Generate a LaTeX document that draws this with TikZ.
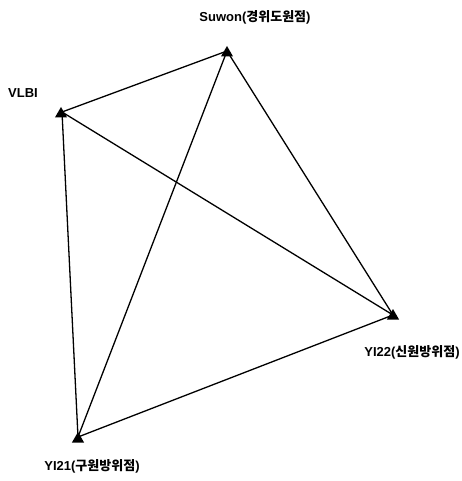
\documentclass[tikz,border=0pt]{standalone}
\usepackage{fontspec}
\usetikzlibrary{shapes.geometric}
\setmainfont{Liberation Sans}
\newfontfamily\kr{Noto Sans CJK KR}
\begin{document}
\begin{tikzpicture}[x=1pt,y=-1pt,
  stn/.style={regular polygon,regular polygon sides=3,fill=black,inner sep=0pt,minimum size=14pt},
  lbl/.style={font=\bfseries\fontsize{13}{15}\selectfont},
  ln/.style={line width=1.3pt}]
\useasboundingbox (0,0) rectangle (461,481);
\node[stn] (S) at (227,53) {};
\node[stn] (V) at (61,114) {};
\node[stn] (Y2) at (393,316) {};
\node[stn] (Y1) at (78,439) {};
\coordinate (s) at (227,51);
\coordinate (v) at (62,112);
\coordinate (y2) at (393,315);
\coordinate (y1) at (78,437);
\draw[ln] (v) -- (s) -- (y2) -- (y1) -- (v) -- (y2);
\draw[ln] (s) -- (y1);
\node[lbl] (Ls) at (255,17) {Suwon({\kr\bfseries 경위도원점})};
\node[lbl] (Lv) at (23,93) {VLBI};
\node[lbl] (Ly2) at (412,352) {YI22({\kr\bfseries 신원방위점})};
\node[lbl] (Ly1) at (92,466) {YI21({\kr\bfseries 구원방위점})};
\end{tikzpicture}
\end{document}
